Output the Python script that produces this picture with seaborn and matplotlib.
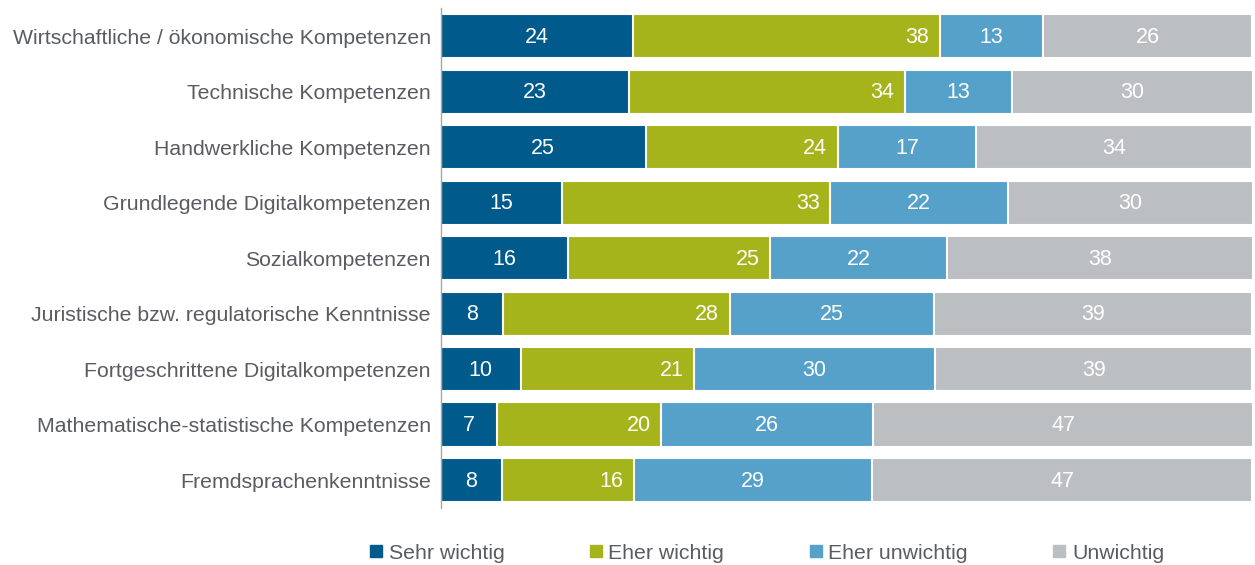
import numpy as np
import pandas as pd
import matplotlib.pyplot as plt
import seaborn as sns
from matplotlib.lines import Line2D

# Daten (Anteile in %)
kategorien = [
    'Wirtschaftliche / ökonomische Kompetenzen',
    'Technische Kompetenzen',
    'Handwerkliche Kompetenzen',
    'Grundlegende Digitalkompetenzen',
    'Sozialkompetenzen',
    'Juristische bzw. regulatorische Kenntnisse',
    'Fortgeschrittene Digitalkompetenzen',
    'Mathematische-statistische Kompetenzen',
    'Fremdsprachenkenntnisse',
]
sehr_wichtig = [23.7, 23.2, 25.3, 15.0, 15.7, 7.7, 9.9, 7.0, 7.6]
eher_wichtig = [37.8, 34.0, 23.6, 33.0, 24.9, 27.9, 21.3, 20.2, 16.2]
eher_unwichtig = [12.7, 13.2, 17.1, 21.9, 21.8, 25.2, 29.7, 26.1, 29.4]
unwichtig = [25.8, 29.7, 34.0, 30.2, 37.7, 39.1, 39.1, 46.8, 46.8]

serien = ['Sehr wichtig', 'Eher wichtig', 'Eher unwichtig', 'Unwichtig']
farben = ['#005b8c', '#a6b41c', '#56a1c9', '#bcbfc2']
textfarbe = '#595c60'

sns.set_theme(style='white')
plt.rcParams['font.family'] = ['Liberation Sans', 'DejaVu Sans']

df = pd.DataFrame({'Kategorie': kategorien, 'Sehr wichtig': sehr_wichtig,
                   'Eher wichtig': eher_wichtig, 'Eher unwichtig': eher_unwichtig,
                   'Unwichtig': unwichtig})
kum = df[serien].cumsum(axis=1)

fig = plt.figure(figsize=(12.55, 5.65), dpi=100)
ax = fig.add_axes([0.351, 0.101, 0.647, 0.884])

# gestapelte Balken: kumulierte Summen von hinten nach vorne zeichnen
for s, c in reversed(list(zip(serien, farben))):
    sns.barplot(x=kum[s], y=df['Kategorie'], color=c, orient='h', ax=ax,
                width=0.8, edgecolor='white', linewidth=1.5, saturation=1)

# Werte beschriften
for i in range(len(df)):
    start = 0
    for j, s in enumerate(serien):
        v = df[s].iloc[i]
        ende = start + v
        if s == 'Eher wichtig':
            ax.text(ende - 1.3, i + 0.02, f'{v:.0f}', ha='right', va='center',
                    color='white', fontsize=15.5)
        else:
            ax.text((start + ende) / 2, i + 0.02, f'{v:.0f}', ha='center', va='center',
                    color='white', fontsize=15.5)
        start = ende

ax.set_xlim(0, 100)
ax.set_ylim(8.5, -0.5)
ax.set_xlabel('')
ax.set_ylabel('')
ax.set_xticks([])
ax.tick_params(axis='y', length=0, pad=7, labelsize=15.3, labelcolor=textfarbe)
for sp in ['top', 'right', 'bottom']:
    ax.spines[sp].set_visible(False)
ax.spines['left'].set_color('#a6a6a6')
ax.spines['left'].set_linewidth(1.0)

handles = [Line2D([0], [0], marker='s', linestyle='', markersize=8,
                  markerfacecolor=c, markeredgecolor=c) for c in farben]
fig.legend(handles, serien, loc='center', bbox_to_anchor=(0.611, 0.021), ncol=4,
           frameon=False, fontsize=15.3, labelcolor=textfarbe,
           handlelength=0.6, handletextpad=0.3, columnspacing=4.0)

fig.savefig('out.png', dpi=100)
plt.close(fig)
